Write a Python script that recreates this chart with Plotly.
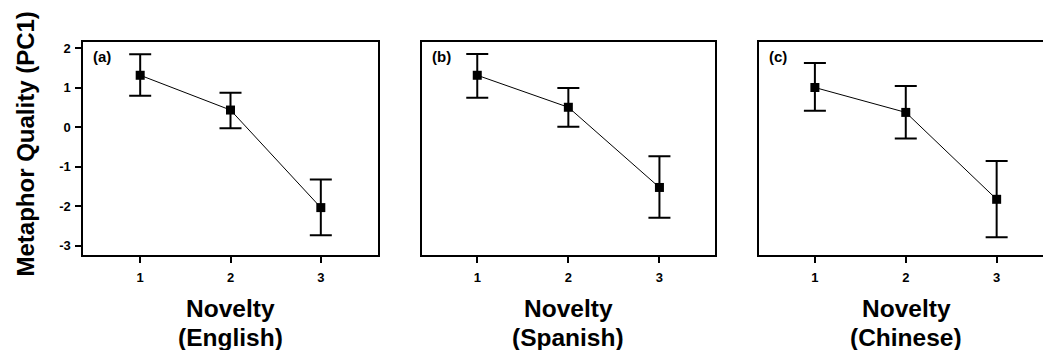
import plotly.graph_objects as go

W, H = 1043, 350

novelty = [1, 2, 3]
panel_labels = ["(a)", "(b)", "(c)"]
languages = ["(English)", "(Spanish)", "(Chinese)"]

english_mean = [1.32, 0.44, -2.03]
english_upper = [1.85, 0.88, -1.32]
english_lower = [0.80, -0.02, -2.73]

spanish_mean = [1.32, 0.51, -1.52]
spanish_upper = [1.86, 1.00, -0.73]
spanish_lower = [0.75, 0.02, -2.29]

chinese_mean = [1.01, 0.38, -1.82]
chinese_upper = [1.63, 1.05, -0.85]
chinese_lower = [0.42, -0.28, -2.78]

y_tickvals = [-3, -2, -1, 0, 1, 2]
y_ticktext = ["-3", "-2", "-1", "0", "1", "2"]
x_ticktext = ["1", "2", "3"]

means = [english_mean, spanish_mean, chinese_mean]
uppers = [english_upper, spanish_upper, chinese_upper]
lowers = [english_lower, spanish_lower, chinese_lower]

# pixel geometry
px_left = [83.3, 421.7, 759.0]
px_right = [377.7, 715.0, 1043.0]
x_ranges = [[0.37, 3.63], [0.39, 3.61], [0.385, 3.51]]
top_px, bot_px = 41.7, 255.0
y_range = [-3.23, 2.17]

FONT = "Arial, Liberation Sans, sans-serif"

fig = go.Figure()
layout = dict(
    width=W, height=H,
    margin=dict(l=0, r=0, t=0, b=0),
    paper_bgcolor="white", plot_bgcolor="white",
    showlegend=False,
    font=dict(family=FONT, color="black"),
)
annotations = []

for i in range(3):
    xa = "x" if i == 0 else f"x{i+1}"
    ya = "y" if i == 0 else f"y{i+1}"
    m, up, lo = means[i], uppers[i], lowers[i]
    fig.add_trace(go.Scatter(
        x=novelty, y=m, xaxis=xa, yaxis=ya,
        mode="lines+markers",
        line=dict(color="black", width=1),
        marker=dict(symbol="square", size=9, color="black"),
        error_y=dict(
            type="data", symmetric=False,
            array=[u - v for u, v in zip(up, m)],
            arrayminus=[v - l for v, l in zip(m, lo)],
            color="black", thickness=2, width=11,
        ),
        cliponaxis=False,
    ))
    xkey = "xaxis" if i == 0 else f"xaxis{i+1}"
    ykey = "yaxis" if i == 0 else f"yaxis{i+1}"
    layout[xkey] = dict(
        domain=[px_left[i] / W, px_right[i] / W],
        range=x_ranges[i], anchor=ya,
        tickvals=novelty, ticktext=x_ticktext,
        ticks="outside", ticklen=6, tickwidth=2, tickcolor="black",
        ticklabelstandoff=3,
        showline=True, linecolor="black", linewidth=2, mirror=True,
        showgrid=False, zeroline=False,
        tickfont=dict(family=FONT, size=13, color="black", weight="bold"),
    )
    ydict = dict(
        domain=[1 - bot_px / H, 1 - top_px / H],
        range=y_range, anchor=xa,
        showline=True, linecolor="black", linewidth=2, mirror=(i < 2),
        showgrid=False, zeroline=False,
    )
    if i == 0:
        ydict.update(
            tickvals=y_tickvals, ticktext=y_ticktext,
            ticks="outside", ticklen=6, tickwidth=2, tickcolor="black",
            ticklabelstandoff=2,
            tickfont=dict(family=FONT, size=13, color="black", weight="bold"),
        )
    else:
        ydict.update(showticklabels=False, ticks="")
    layout[ykey] = ydict

    cx = (px_left[i] + (px_right[i] if i < 2 else 1053)) / 2
    annotations.append(dict(
        text=panel_labels[i], xref="paper", yref="paper",
        x=(px_left[i] + 8) / W, y=1 - 56.7 / H, xanchor="left", yanchor="middle",
        showarrow=False, font=dict(family=FONT, size=15, color="black", weight="bold"),
    ))
    annotations.append(dict(
        text="Novelty", xref="paper", yref="paper",
        x=cx / W, y=1 - 308 / H, xanchor="center", yanchor="middle",
        showarrow=False, font=dict(family=FONT, size=24.5, color="black", weight="bold"),
    ))
    annotations.append(dict(
        text=languages[i], xref="paper", yref="paper",
        x=cx / W, y=1 - 337 / H, xanchor="center", yanchor="middle",
        showarrow=False, font=dict(family=FONT, size=24.5, color="black", weight="bold"),
    ))

annotations.append(dict(
    text="Metaphor Quality (PC1)", xref="paper", yref="paper",
    x=25 / W, y=1 - 144.5 / H, xanchor="center", yanchor="middle",
    textangle=-90, showarrow=False,
    font=dict(family=FONT, size=24, color="black", weight="bold"),
))
layout["annotations"] = annotations
fig.update_layout(**layout)

fig.write_html(
    "out.html",
    config={"displayModeBar": False},
    post_script="document.body.style.margin='0';document.body.style.overflow='hidden';",
)
